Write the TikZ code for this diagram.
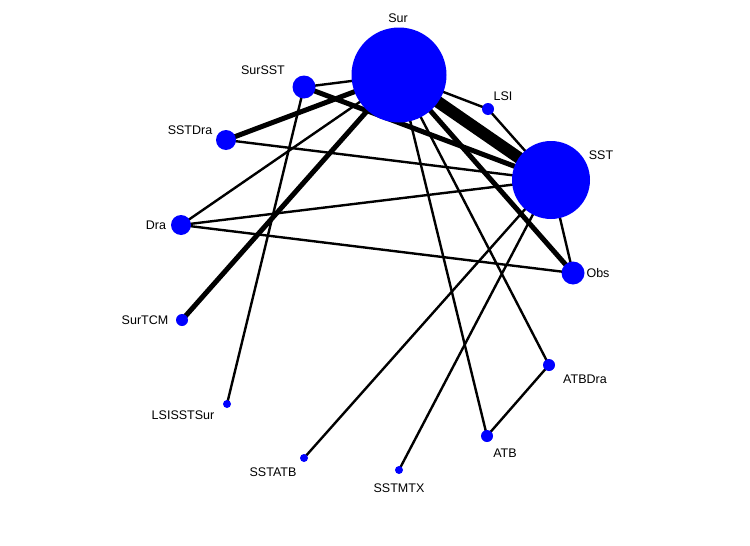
\documentclass[tikz,border=0pt]{standalone}
\usepackage{fontspec}
\setmainfont{Liberation Sans}
\begin{document}
\begin{tikzpicture}[x=1pt,y=-1pt,
  nd/.style={circle,fill={rgb,255:red,0;green,0;blue,255},inner sep=0pt,minimum size=#1},
  lb/.style={font=\fontsize{12.5}{14}\selectfont},
  thin1/.style={line width=2.4pt},
  thick1/.style={line width=5pt},
  ]
\useasboundingbox (0,0) rectangle (750,546);
\coordinate (pSur) at (399,75);
\coordinate (pSST) at (551,180);
\coordinate (pSurSST) at (304,87);
\coordinate (pLSI) at (488,109);
\coordinate (pSSTDra) at (226,140);
\coordinate (pDra) at (181,225);
\coordinate (pObs) at (573,273);
\coordinate (pSurTCM) at (182,320);
\coordinate (pATBDra) at (549,365);
\coordinate (pLSISSTSur) at (227,404);
\coordinate (pATB) at (487,436);
\coordinate (pSSTATB) at (304,458);
\coordinate (pSSTMTX) at (399,470);
\draw[line width=12pt] (pSur) -- (pSST);
\draw[thin1] (pSur) -- (pLSI) -- (pSST);
\draw[thin1] (pSurSST) -- (pSur);
\draw[thick1] (pSurSST) -- (pSST);
\draw[thin1] (pSurSST) -- (pLSISSTSur);
\draw[thick1] (pSur) -- (pSSTDra);
\draw[thin1] (pSur) -- (pDra);
\draw[thick1] (pSur) -- (pSurTCM);
\draw[thick1] (pSur) -- (pObs);
\draw[thin1] (pSur) -- (pATB);
\draw[thin1] (pSur) -- (pATBDra);
\draw[thin1] (pSSTDra) -- (pSST);
\draw[thin1] (pDra) -- (pSST);
\draw[thin1] (pDra) -- (pObs);
\draw[thin1] (pSST) -- (pObs);
\draw[thin1] (pSST) -- (pSSTATB);
\draw[thin1] (pSST) -- (pSSTMTX);
\draw[thin1] (pATB) -- (pATBDra);
\node[nd=95pt] (Sur) at (pSur) {};
\node[nd=78pt] (SST) at (pSST) {};
\node[nd=23pt] (SurSST) at (pSurSST) {};
\node[nd=12pt] (LSI) at (pLSI) {};
\node[nd=20pt] (SSTDra) at (pSSTDra) {};
\node[nd=20pt] (Dra) at (pDra) {};
\node[nd=23pt] (Obs) at (pObs) {};
\node[nd=12pt] (SurTCM) at (pSurTCM) {};
\node[nd=12pt] (ATBDra) at (pATBDra) {};
\node[nd=8pt] (LSISSTSur) at (pLSISSTSur) {};
\node[nd=12pt] (ATB) at (pATB) {};
\node[nd=8pt] (SSTATB) at (pSSTATB) {};
\node[nd=8pt] (SSTMTX) at (pSSTMTX) {};
\node[lb] (lSur) at (398,18) {Sur};
\node[lb] (lSurSST) at (263,70) {SurSST};
\node[lb] (lLSI) at (503,96) {LSI};
\node[lb] (lSST) at (601,155) {SST};
\node[lb] (lSSTDra) at (190,130) {SSTDra};
\node[lb] (lDra) at (156,225) {Dra};
\node[lb] (lObs) at (598,273) {Obs};
\node[lb] (lSurTCM) at (145,320) {SurTCM};
\node[lb] (lATBDra) at (585,379) {ATBDra};
\node[lb] (lLSISSTSur) at (183,415) {LSISSTSur};
\node[lb] (lATB) at (505,453) {ATB};
\node[lb] (lSSTATB) at (273,472) {SSTATB};
\node[lb] (lSSTMTX) at (399,488) {SSTMTX};
\end{tikzpicture}
\end{document}
